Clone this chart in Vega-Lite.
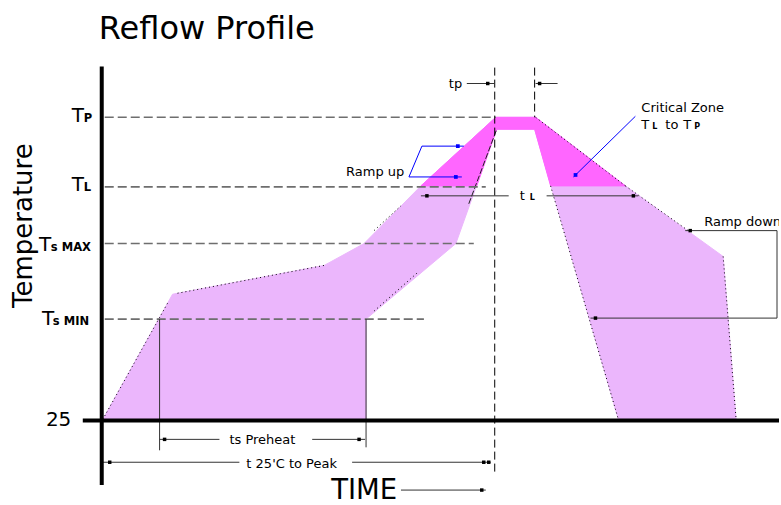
{
  "$schema": "https://vega.github.io/schema/vega-lite/v6.json",
  "width": 781,
  "height": 505,
  "autosize": {"type": "fit", "contains": "padding"},
  "padding": 0,
  "background": "white",
  "config": {"view": {"stroke": null}, "font": "DejaVu Sans"},
  "encoding": {
    "x": {"field": "x", "type": "quantitative", "scale": {"domain": [0, 781], "nice": false, "zero": false}, "axis": null},
    "y": {"field": "y", "type": "quantitative", "scale": {"domain": [0, 505], "reverse": true, "nice": false, "zero": false}, "axis": null}
  },
  "layer": [
    {
      "data": {"values": [
        {"i": 1, "x": 103, "y": 422}, {"i": 2, "x": 173, "y": 296}, {"i": 3, "x": 325, "y": 267},
        {"i": 4, "x": 365, "y": 245}, {"i": 5, "x": 422, "y": 187}, {"i": 6, "x": 497, "y": 118},
        {"i": 7, "x": 537, "y": 118}, {"i": 8, "x": 627, "y": 187}, {"i": 9, "x": 725, "y": 258},
        {"i": 10, "x": 738, "y": 422}, {"i": 11, "x": 620, "y": 422}, {"i": 12, "x": 536, "y": 130},
        {"i": 13, "x": 498, "y": 130}, {"i": 14, "x": 457, "y": 245}, {"i": 15, "x": 367, "y": 321},
        {"i": 16, "x": 367, "y": 422}, {"i": 17, "x": 103, "y": 422}
      ]},
      "mark": {"type": "line", "fill": "#EBB6FC", "stroke": "#EBB6FC", "strokeWidth": 1},
      "encoding": {"order": {"field": "i", "type": "quantitative"}}
    },
    {
      "data": {"values": [
        {"i": 1, "x": 422, "y": 187}, {"i": 2, "x": 497, "y": 118}, {"i": 3, "x": 537, "y": 118},
        {"i": 4, "x": 627, "y": 187}, {"i": 5, "x": 552, "y": 187}, {"i": 6, "x": 536, "y": 130},
        {"i": 7, "x": 498, "y": 130}, {"i": 8, "x": 478, "y": 187}, {"i": 9, "x": 422, "y": 187}
      ]},
      "mark": {"type": "line", "fill": "#FF66FF", "stroke": "#FF66FF", "strokeWidth": 1},
      "encoding": {"order": {"field": "i", "type": "quantitative"}}
    },
    {
      "data": {"values": [
        {"x": 103, "y": 422, "x2": 168, "y2": 305},
        {"x": 178, "y": 295, "x2": 325, "y2": 267},
        {"x": 375, "y": 232, "x2": 402, "y2": 207},
        {"x": 375, "y": 313, "x2": 420, "y2": 273},
        {"x": 537, "y": 118, "x2": 627, "y2": 187},
        {"x": 627, "y": 187, "x2": 690, "y2": 232},
        {"x": 725, "y": 258, "x2": 738, "y2": 422},
        {"x": 552, "y": 187, "x2": 620, "y2": 422}
      ]},
      "mark": {"type": "rule", "color": "#000000", "strokeWidth": 1, "strokeDash": [1, 3]},
      "encoding": {"x2": {"field": "x2"}, "y2": {"field": "y2"}}
    },
    {
      "data": {"values": [
        {"x": 470, "y": 205, "x2": 498, "y2": 130}
      ]},
      "mark": {"type": "rule", "color": "#222222", "strokeWidth": 1, "strokeDash": [6, 2]},
      "encoding": {"x2": {"field": "x2"}, "y2": {"field": "y2"}}
    },
    {
      "data": {"values": [
        {"x": 105, "y": 118, "x2": 497, "y2": 118},
        {"x": 105, "y": 188, "x2": 487, "y2": 188},
        {"x": 105, "y": 245, "x2": 475, "y2": 245},
        {"x": 105, "y": 321, "x2": 425, "y2": 321}
      ]},
      "mark": {"type": "rule", "color": "#6E6E6E", "strokeWidth": 1.6, "strokeDash": [9, 4]},
      "encoding": {"x2": {"field": "x2"}, "y2": {"field": "y2"}}
    },
    {
      "data": {"values": [
        {"x": 496, "y": 68, "x2": 496, "y2": 478},
        {"x": 536, "y": 68, "x2": 536, "y2": 118}
      ]},
      "mark": {"type": "rule", "color": "#000000", "strokeWidth": 1, "strokeDash": [8, 4]},
      "encoding": {"x2": {"field": "x2"}, "y2": {"field": "y2"}}
    },
    {
      "data": {"values": [
        {"x": 160, "y": 321, "x2": 160, "y2": 453},
        {"x": 367, "y": 321, "x2": 367, "y2": 450},
        {"x": 468, "y": 84, "x2": 496, "y2": 84},
        {"x": 537, "y": 84, "x2": 559, "y2": 84},
        {"x": 422, "y": 197, "x2": 510, "y2": 197},
        {"x": 548, "y": 197, "x2": 640, "y2": 197},
        {"x": 160, "y": 442, "x2": 220, "y2": 442},
        {"x": 313, "y": 442, "x2": 366, "y2": 442},
        {"x": 103, "y": 465, "x2": 240, "y2": 465},
        {"x": 353, "y": 465, "x2": 492, "y2": 465},
        {"x": 402, "y": 493, "x2": 487, "y2": 493},
        {"x": 687, "y": 232, "x2": 779, "y2": 232},
        {"x": 779, "y": 232, "x2": 779, "y2": 320},
        {"x": 592, "y": 320, "x2": 779, "y2": 320}
      ]},
      "mark": {"type": "rule", "color": "#333333", "strokeWidth": 1},
      "encoding": {"x2": {"field": "x2"}, "y2": {"field": "y2"}}
    },
    {
      "data": {"values": [
        {"x": 423, "y": 147, "x2": 465, "y2": 147},
        {"x": 423, "y": 147, "x2": 410, "y2": 178},
        {"x": 410, "y": 178, "x2": 463, "y2": 178},
        {"x": 637, "y": 117, "x2": 575, "y2": 178}
      ]},
      "mark": {"type": "rule", "color": "#0000FF", "strokeWidth": 1},
      "encoding": {"x2": {"field": "x2"}, "y2": {"field": "y2"}}
    },
    {
      "data": {"values": [
        {"x": 102, "y": 67, "x2": 102, "y2": 488},
        {"x": 83, "y": 423, "x2": 781, "y2": 423}
      ]},
      "mark": {"type": "rule", "color": "#000000", "strokeWidth": 4},
      "encoding": {"x2": {"field": "x2"}, "y2": {"field": "y2"}}
    },
    {
      "data": {"values": [
        {"x": 489, "y": 84}, {"x": 541, "y": 84}, {"x": 428, "y": 197}, {"x": 635, "y": 197},
        {"x": 165, "y": 442}, {"x": 360, "y": 442}, {"x": 110, "y": 465}, {"x": 485, "y": 465},
        {"x": 490, "y": 465}, {"x": 483, "y": 493}, {"x": 692, "y": 232}, {"x": 597, "y": 320}
      ]},
      "mark": {"type": "square", "color": "#000000", "size": 12, "opacity": 1}
    },
    {
      "data": {"values": [
        {"x": 459, "y": 147}, {"x": 457, "y": 178}, {"x": 577, "y": 176}
      ]},
      "mark": {"type": "square", "color": "#0000FF", "size": 14, "opacity": 1}
    },
    {
      "data": {"values": [{"x": 99, "y": 39, "t": "Reflow Profile"}]},
      "mark": {"type": "text", "align": "left", "baseline": "alphabetic", "fontSize": 32, "color": "#000000"},
      "encoding": {"text": {"field": "t"}}
    },
    {
      "data": {"values": [{"x": 32, "y": 227, "t": "Temperature"}]},
      "mark": {"type": "text", "align": "center", "baseline": "alphabetic", "angle": 270, "fontSize": 26, "color": "#000000"},
      "encoding": {"text": {"field": "t"}}
    },
    {
      "data": {"values": [
        {"x": 332, "y": 502, "t": "TIME"}
      ]},
      "mark": {"type": "text", "align": "left", "baseline": "alphabetic", "fontSize": 27.5, "color": "#000000"},
      "encoding": {"text": {"field": "t"}}
    },
    {
      "data": {"values": [
        {"x": 72, "y": 123, "t": "T"}, {"x": 72, "y": 192, "t": "T"}, {"x": 39, "y": 252, "t": "T"},
        {"x": 42, "y": 327, "t": "T"}, {"x": 46, "y": 429, "t": "25"}
      ]},
      "mark": {"type": "text", "align": "left", "baseline": "alphabetic", "fontSize": 20, "color": "#000000"},
      "encoding": {"text": {"field": "t"}}
    },
    {
      "data": {"values": [
        {"x": 84, "y": 123, "t": "P"}, {"x": 84, "y": 192, "t": "L"}, {"x": 51, "y": 252, "t": "s MAX"},
        {"x": 53, "y": 327, "t": "s MIN"}
      ]},
      "mark": {"type": "text", "align": "left", "baseline": "alphabetic", "fontSize": 11.5, "fontWeight": "bold", "color": "#000000"},
      "encoding": {"text": {"field": "t"}}
    },
    {
      "data": {"values": [
        {"x": 450, "y": 89, "t": "tp"}, {"x": 347, "y": 177, "t": "Ramp up"},
        {"x": 643, "y": 113, "t": "Critical Zone"}, {"x": 643, "y": 130, "t": "T"},
        {"x": 667, "y": 130, "t": "to"}, {"x": 685, "y": 130, "t": "T"},
        {"x": 230, "y": 447, "t": "ts Preheat"}, {"x": 247, "y": 471, "t": "t 25'C to Peak"},
        {"x": 521, "y": 201, "t": "t"}, {"x": 706, "y": 227, "t": "Ramp down"}
      ]},
      "mark": {"type": "text", "align": "left", "baseline": "alphabetic", "fontSize": 13, "color": "#000000", "clip": true},
      "encoding": {"text": {"field": "t"}}
    },
    {
      "data": {"values": [
        {"x": 531, "y": 201, "t": "L"}, {"x": 654, "y": 130, "t": "L"}, {"x": 696, "y": 130, "t": "P"}
      ]},
      "mark": {"type": "text", "align": "left", "baseline": "alphabetic", "fontSize": 8, "fontWeight": "bold", "color": "#000000"},
      "encoding": {"text": {"field": "t"}}
    }
  ]
}
